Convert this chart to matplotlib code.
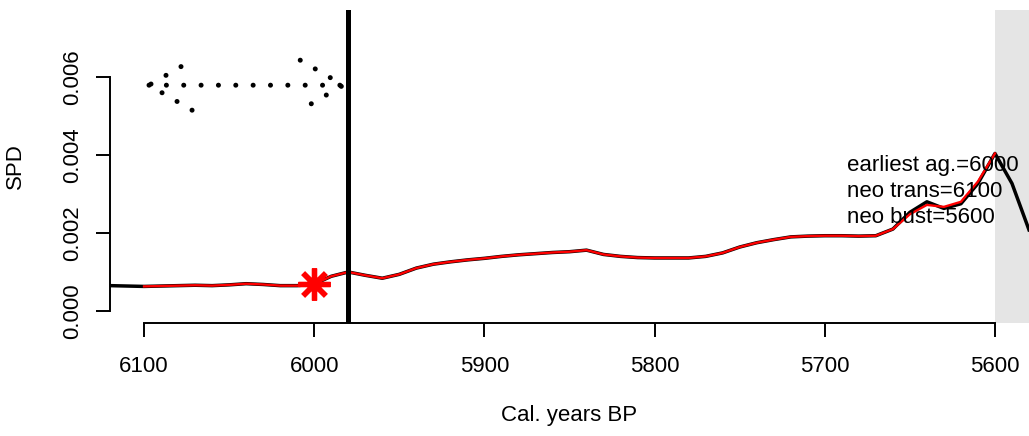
import matplotlib
matplotlib.use("Agg")
import matplotlib.pyplot as plt
import numpy as np

plt.rcParams['font.family'] = ['Liberation Sans', 'DejaVu Sans']

# ---- data ----
years_all = [6120, 6110, 6100, 6090, 6080, 6070, 6060, 6050, 6040, 6030, 6020, 6010,
             6000, 5990, 5980, 5970, 5960, 5950, 5940, 5930, 5920, 5910, 5900, 5890,
             5880, 5870, 5860, 5850, 5840, 5830, 5820, 5810, 5800, 5790, 5780, 5770,
             5760, 5750, 5740, 5730, 5720, 5710, 5700, 5690, 5680, 5670, 5660, 5650,
             5640, 5630, 5620, 5610, 5600, 5590, 5580]
spd_all = [0.00065, 0.00064, 0.00063, 0.00064, 0.00065, 0.00066, 0.00065, 0.00067,
           0.00070, 0.00068, 0.00065, 0.00065, 0.00069, 0.00089, 0.00100, 0.000915,
           0.00084, 0.00094, 0.00110, 0.00120, 0.00126, 0.00131, 0.00135, 0.00140,
           0.00144, 0.00147, 0.00150, 0.00152, 0.00156, 0.00145, 0.00140, 0.00137,
           0.00136, 0.00136, 0.00136, 0.00140, 0.00149, 0.00164, 0.00175, 0.00183,
           0.00190, 0.00192, 0.00193, 0.00193, 0.00192, 0.00193, 0.00210, 0.00253,
           0.00280, 0.00263, 0.00275, 0.00327, 0.00404, 0.00327, 0.00208]

years_sub = years_all[2:53]
spd_sub = spd_all[2:47] + [0.00248, 0.00272, 0.00267, 0.00280, 0.00332, 0.00404]

star_year, star_val = 6000, 0.00069
vline_year = 5980
arrow_from, arrow_to, arrow_y = 6100, 5980, 0.00579
shade_from, shade_to = 5600, 5580

xticks = [6100, 6000, 5900, 5800, 5700, 5600]
yticks = [0.000, 0.002, 0.004, 0.006]
ytick_labels = ["0.000", "0.002", "0.004", "0.006"]

annot_text = "earliest ag.=6000\nneo trans=6100\nneo bust=5600"
annot_x, annot_y = 5687, 0.0040

# ---- figure ----
W, H = 1029, 436
fig = plt.figure(figsize=(W / 100, H / 100), dpi=100)
left, right, bottom, top = 110, 1029, 323, 10
ax = fig.add_axes([left / W, (H - bottom) / H, (right - left) / W, (bottom - top) / H])

ax.set_xlim(6120, 5580)
ax.set_ylim(-0.000308, 0.007718)

ax.axvspan(shade_from, shade_to, color='#e5e5e5', lw=0, zorder=0)

ax.plot(years_all, spd_all, color='black', lw=2.5, zorder=2, solid_joinstyle='round')
ax.plot(years_sub, spd_sub, color='red', lw=1.7, zorder=3, solid_joinstyle='round')

ax.plot([star_year], [star_val], linestyle='none', marker=(8, 2, 0), markersize=23,
        markeredgewidth=3.8, markeredgecolor='red', zorder=4)

ax.axvline(vline_year, color='black', lw=3.6, zorder=5)

ax.annotate('', xy=(arrow_to, arrow_y), xytext=(arrow_from, arrow_y),
            arrowprops=dict(arrowstyle='<->,head_length=31,head_width=18',
                            mutation_scale=1, linestyle=(0, (0.01, 3.46)), lw=3.6,
                            capstyle='round', shrinkA=0, shrinkB=0, color='black'),
            zorder=5)

ax.text(annot_x, annot_y, annot_text, ha='left', va='top', fontsize=16,
        linespacing=1.3, zorder=6)

for s in ['top', 'right']:
    ax.spines[s].set_visible(False)
ax.spines['bottom'].set_bounds(xticks[-1], xticks[0])
ax.spines['left'].set_bounds(yticks[0], yticks[-1])
for s in ['bottom', 'left']:
    ax.spines[s].set_linewidth(1.4)

ax.set_xticks(xticks)
ax.set_xticklabels([str(t) for t in xticks])
ax.set_yticks(yticks)
ax.set_yticklabels(ytick_labels)
ax.tick_params(axis='both', direction='out', length=10, width=1.4, labelsize=16)
ax.tick_params(axis='x', pad=14)
ax.tick_params(axis='y', pad=9, labelrotation=90)
for lab in ax.get_yticklabels():
    lab.set_va('center')
    lab.set_ha('right')

ax.set_xlabel("Cal. years BP", fontsize=16)
ax.xaxis.set_label_coords(0.5, -0.297)
ax.xaxis.label.set_va('center')
ax.set_ylabel("SPD", fontsize=16)
ax.yaxis.set_label_coords(-0.103, 0.5)
ax.yaxis.label.set_va('center')
ax.yaxis.label.set_ha('center')

fig.savefig("out.png", dpi=100)
